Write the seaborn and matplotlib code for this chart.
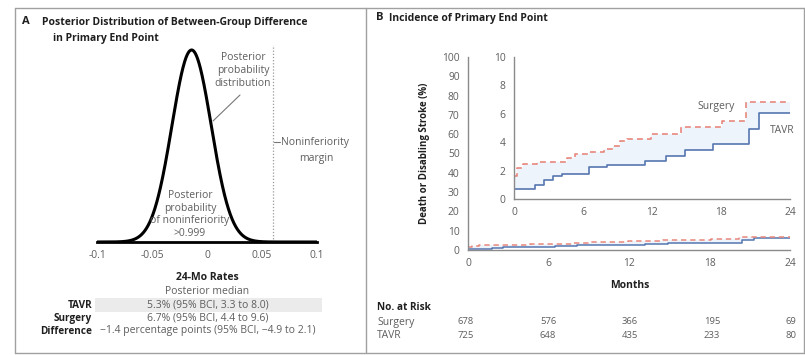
import numpy as np
import pandas as pd
import matplotlib
matplotlib.use("Agg")
import matplotlib.pyplot as plt
import seaborn as sns
from matplotlib.lines import Line2D
from matplotlib.patches import Rectangle

# ---------------- data ----------------
# Panel A: posterior of the between-group difference (percentage points)
diff_median = -1.4
diff_ci_low = -4.9
diff_ci_high = 2.1
noninferiority_margin = 6.0
diff_ticks = [-0.1, -0.05, 0, 0.05, 0.1]
diff_tick_labels = ["-0.1", "-0.05", "0", "0.05", "0.1"]

rate_groups = ["TAVR", "Surgery", "Difference"]
rate_texts = [
    "5.3% (95% BCI, 3.3 to 8.0)",
    "6.7% (95% BCI, 4.4 to 9.6)",
    "\u22121.4 percentage points (95% BCI, \u22124.9 to 2.1)",
]

# Panel B: cumulative incidence of death or disabling stroke (%)
tavr_months = [0, 1.8, 2.6, 3.4, 4.2, 6.5, 8.1, 11.4, 13.2, 14.9, 17.3, 20.4, 21.3, 24]
tavr_rate = [0.7, 1.0, 1.35, 1.6, 1.75, 2.27, 2.4, 2.68, 3.03, 3.45, 3.85, 4.93, 6.03, 6.03]
surgery_months = [0, 0.3, 0.8, 2.0, 4.6, 5.3, 6.5, 7.8, 8.6, 9.2, 9.8, 11.9, 14.5, 18.1, 20.2, 24]
surgery_rate = [1.6, 2.2, 2.45, 2.6, 2.9, 3.15, 3.3, 3.55, 3.7, 4.1, 4.25, 4.55, 5.05, 5.5, 6.85, 6.85]

month_ticks = [0, 6, 12, 18, 24]
main_y_ticks = list(range(0, 101, 10))
inset_y_ticks = [0, 2, 4, 6, 8, 10]

risk_groups = ["Surgery", "TAVR"]
risk_surgery = [678, 576, 366, 195, 69]
risk_tavr = [725, 648, 435, 233, 80]

# ---------------- style ----------------
sns.set_theme(style="white")
plt.rcParams['font.family'] = ['Open Sans', 'DejaVu Sans']

W, H = 805, 355
fig = plt.figure(figsize=(W / 100, H / 100), dpi=100)
fig.patch.set_facecolor("white")

GRAY_TXT = "#5e5e5e"
DARK = "#1f1f1f"
AXIS_GRAY = "#8a8a8a"
TAVR_COLOR = "#5576b0"
SURG_COLOR = "#e8877c"
FILL_COLOR = "#edf4fc"

FS_NOTE = 7.5
FS_TICK = 7.4
FS_HEAD = 7.5
FS_LABEL = 7.2


def fx(x):
    return x / W


def fy(y):
    return 1 - y / H


def box(l, t, r, b):
    return [fx(l), fy(b), (r - l) / W, (b - t) / H]


def ftext(x, y, s, **kw):
    kw.setdefault("va", "center")
    fig.text(fx(x), fy(y), s, **kw)


# frame around both panels
for (x0, y0, x1, y1) in [(15, 8, 804, 8), (15, 353, 804, 353), (15, 8, 15, 353),
                         (804, 8, 804, 353), (366, 8, 366, 353)]:
    fig.add_artist(Line2D([fx(x0), fx(x1)], [fy(y0), fy(y1)], color="#a0a0a0", lw=1.0))

# ---------------- Panel A ----------------
axA = fig.add_axes(box(97, 45, 317, 242))
sd = (diff_ci_high - diff_ci_low) / (2 * 1.959964) / 100
grid = np.linspace(-0.1, 0.1, 801)
dens = np.exp(-0.5 * ((grid - diff_median / 100) / sd) ** 2) / (sd * np.sqrt(2 * np.pi))
sns.lineplot(x=grid, y=dens, ax=axA, color="black", lw=2.2)
axA.set_xlim(-0.1, 0.1)
axA.set_ylim(0, dens.max() * 1.026)
axA.axvline(noninferiority_margin / 100, color="#9a9a9a", ls=(0, (1, 1.5)), lw=0.9)
for s in ["top", "right", "left"]:
    axA.spines[s].set_visible(False)
axA.spines["bottom"].set_color("black")
axA.spines["bottom"].set_linewidth(2.0)
axA.set_yticks([])
axA.set_xticks(diff_ticks)
axA.set_xticklabels(diff_tick_labels)
axA.tick_params(axis="x", direction="in", length=4, width=1, color="black",
                labelsize=FS_TICK, labelcolor=GRAY_TXT, pad=6)
axA.set_xlabel("")
axA.set_ylabel("")
axA.patch.set_alpha(0)

ftext(22, 22, "A", fontsize=FS_HEAD + 0.5, fontweight="bold", color=DARK)
ftext(42, 22, "Posterior Distribution of Between-Group Difference",
      fontsize=FS_HEAD, fontweight="bold", color=DARK)
ftext(53, 38, "in Primary End Point", fontsize=FS_HEAD, fontweight="bold", color=DARK)

ftext(243, 58, "Posterior", fontsize=FS_NOTE, color=GRAY_TXT, ha="center")
ftext(243, 71, "probability", fontsize=FS_NOTE, color=GRAY_TXT, ha="center")
ftext(243, 84, "distribution", fontsize=FS_NOTE, color=GRAY_TXT, ha="center")
fig.add_artist(Line2D([fx(240), fx(213)], [fy(95), fy(121)], color="#777777", lw=0.8))

fig.add_artist(Line2D([fx(274), fx(280)], [fy(142), fy(142)], color="#777777", lw=0.8))
ftext(281, 142, "Noninferiority", fontsize=FS_NOTE, color=GRAY_TXT, ha="left")
ftext(316, 158, "margin", fontsize=FS_NOTE, color=GRAY_TXT, ha="center")

for yy, s in zip([195, 208, 221, 234],
                 ["Posterior", "probability", "of noninferiority", ">0.999"]):
    ftext(190, yy, s, fontsize=FS_NOTE, color=GRAY_TXT, ha="center")

ftext(207, 278, "24-Mo Rates", fontsize=FS_HEAD, fontweight="bold", color=DARK, ha="center")
ftext(207, 291, "Posterior median", fontsize=FS_NOTE, color=GRAY_TXT, ha="center")
fig.add_artist(Rectangle((fx(95), fy(312)), (322 - 95) / W, 14 / H,
                         facecolor="#ebebeb", edgecolor="none", zorder=0))
for yy, g, t in zip([305, 318, 331], rate_groups, rate_texts):
    ftext(92, yy, g, fontsize=FS_LABEL, fontweight="bold", color=DARK, ha="right")
    ftext(208, yy, t, fontsize=FS_NOTE, color=GRAY_TXT, ha="center")

# ---------------- Panel B ----------------
curves = pd.concat([
    pd.DataFrame({"month": tavr_months, "rate": tavr_rate, "group": "TAVR"}),
    pd.DataFrame({"month": surgery_months, "rate": surgery_rate, "group": "Surgery"}),
], ignore_index=True)
palette = {"TAVR": TAVR_COLOR, "Surgery": SURG_COLOR}
dash_map = {"TAVR": "", "Surgery": (3.5, 2.5)}

# common step grid for shading between the two curves
step_grid = np.array(sorted(set(tavr_months) | set(surgery_months)))
tavr_on_grid = np.array(tavr_rate)[np.searchsorted(tavr_months, step_grid, side="right") - 1]
surg_on_grid = np.array(surgery_rate)[np.searchsorted(surgery_months, step_grid, side="right") - 1]


def style_axis(ax, ymax, yticks, tick_color=AXIS_GRAY):
    for s in ["top", "right"]:
        ax.spines[s].set_visible(False)
    for s in ["left", "bottom"]:
        ax.spines[s].set_color(tick_color)
        ax.spines[s].set_linewidth(1.0)
    ax.set_xlim(0, 24)
    ax.set_ylim(0, ymax)
    ax.set_xticks(month_ticks)
    ax.set_yticks(yticks)
    ax.tick_params(axis="both", direction="out", length=4, width=0.9, color=tick_color,
                   labelsize=FS_TICK, labelcolor=GRAY_TXT, pad=2)
    ax.tick_params(axis="x", direction="inout", length=6, pad=3)
    ax.set_xlabel("")
    ax.set_ylabel("")
    ax.grid(False)


axB = fig.add_axes(box(468, 57, 790, 250))
axB.fill_between(step_grid, tavr_on_grid, surg_on_grid, step="post", color=FILL_COLOR, lw=0)
sns.lineplot(data=curves, x="month", y="rate", hue="group", style="group",
             palette=palette, dashes=dash_map, drawstyle="steps-post",
             estimator=None, lw=1.1, ax=axB, legend=False)
style_axis(axB, 100, main_y_ticks)
axB.patch.set_alpha(0)

axI = fig.add_axes(box(514, 57, 790, 199))
axI.fill_between(step_grid, tavr_on_grid, surg_on_grid, step="post", color=FILL_COLOR, lw=0)
sns.lineplot(data=curves, x="month", y="rate", hue="group", style="group",
             palette=palette, dashes=dash_map, drawstyle="steps-post",
             estimator=None, lw=1.2, ax=axI, legend=False)
style_axis(axI, 10, inset_y_ticks)
axI.set_facecolor("white")

ftext(735, 106, "Surgery", fontsize=FS_NOTE, color=GRAY_TXT, ha="right")
ftext(782, 131, "TAVR", fontsize=FS_NOTE, color=GRAY_TXT, ha="center")

ftext(376, 18, "B", fontsize=FS_HEAD + 0.5, fontweight="bold", color=DARK)
ftext(389, 18, "Incidence of Primary End Point", fontsize=FS_HEAD, fontweight="bold", color=DARK)
fig.text(fx(424), fy(153), "Death or Disabling Stroke (%)", fontsize=FS_LABEL - 0.2,
         fontweight="bold", color=DARK, rotation=90, ha="center", va="center")
ftext(630, 285, "Months", fontsize=FS_HEAD, fontweight="bold", color=DARK, ha="center")

ftext(377, 307, "No. at Risk", fontsize=FS_LABEL, fontweight="bold", color=DARK, ha="left")
risk_x = [466, 548, 630, 712, 791]
for yy, g, vals in zip([322, 336], risk_groups, [risk_surgery, risk_tavr]):
    ftext(377, yy, g, fontsize=FS_NOTE, color=GRAY_TXT, ha="left")
    for xx, v in zip(risk_x, vals):
        ftext(xx, yy, str(v), fontsize=6.8, color=GRAY_TXT, ha="center")

fig.savefig("out.png", dpi=100, facecolor="white")
